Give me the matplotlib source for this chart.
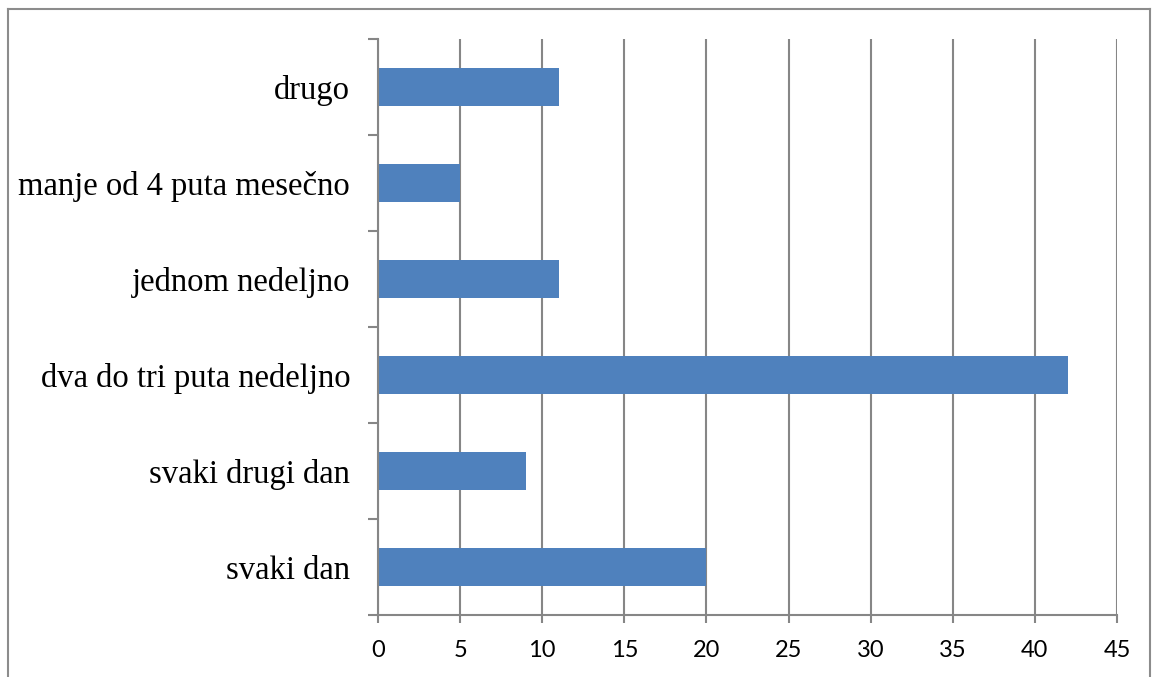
import numpy as np
import matplotlib.pyplot as plt
from matplotlib.lines import Line2D

# Survey answers, listed bottom to top as they appear on the chart
categories = ["svaki dan", "svaki drugi dan", "dva do tri puta nedeljno",
              "jednom nedeljno", "manje od 4 puta mesečno", "drugo"]
counts = [20, 9, 42, 11, 5, 11]
x_ticks = [0, 5, 10, 15, 20, 25, 30, 35, 40, 45]

BAR_COLOR = "#4F81BD"
GRID_COLOR = "#868686"


def main():
    fig = plt.figure(figsize=(11.52, 6.77), dpi=100)
    ax = fig.add_axes([378 / 1152, 1 - 615 / 677, (1117 - 378) / 1152, (615 - 39) / 677])

    y = np.arange(len(categories))
    ax.barh(y, counts, height=0.4, color=BAR_COLOR, zorder=3)

    ax.set_xlim(0, 45)
    ax.set_ylim(-0.5, len(categories) - 0.5)
    ax.set_xticks(x_ticks)
    ax.set_xticklabels([str(t) for t in x_ticks], fontfamily="Lato", fontsize=17)
    ax.set_yticks(y)
    ax.set_yticklabels(categories, fontfamily="Liberation Serif", fontsize=23.5)
    ax.set_yticks(np.arange(len(categories) + 1) - 0.5, minor=True)

    ax.tick_params(axis="y", which="major", length=0, pad=20)
    ax.tick_params(axis="y", which="minor", length=7, width=1.5, color=GRID_COLOR, direction="out")
    ax.tick_params(axis="x", length=6, width=1.5, color=GRID_COLOR, direction="out", pad=12)

    ax.grid(axis="x", color=GRID_COLOR, linewidth=1.5, zorder=0)
    for side in ("top", "right"):
        ax.spines[side].set_visible(False)
    for side in ("left", "bottom"):
        ax.spines[side].set_color(GRID_COLOR)
        ax.spines[side].set_linewidth(1.5)
    ax.spines["left"].set_zorder(4)

    # Chart frame: top, left and right edges
    W, H = 1152, 677
    frame = dict(color="#8C8C8C", linewidth=1.5, transform=fig.transFigure)
    fig.add_artist(Line2D([8 / W, 1150 / W], [1 - 9 / H, 1 - 9 / H], **frame))
    fig.add_artist(Line2D([8 / W, 8 / W], [0, 1 - 9 / H], **frame))
    fig.add_artist(Line2D([1150 / W, 1150 / W], [0, 1 - 9 / H], **frame))

    fig.savefig("out.png", dpi=100)


if __name__ == "__main__":
    main()
